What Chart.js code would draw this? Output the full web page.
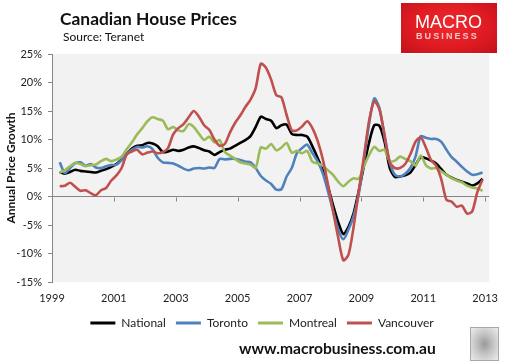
<!DOCTYPE html>
<html>
<head>
<meta charset="utf-8">
<script src="https://cdn.jsdelivr.net/npm/chart.js@4.4.1/dist/chart.umd.min.js"></script>
<style>
    html, body { margin: 0; padding: 0; background: #fff; }
    #wrap { position: relative; width: 508px; height: 364px; overflow: hidden; font-family: Lato, "Open Sans", sans-serif; color: #111; }
    #chart { position: absolute; left: 0; top: 0; }
    .txt { position: absolute; white-space: nowrap; line-height: 1; }
    #title { left: 60px; top: 10px; font-size: 17.4px; font-weight: 700; }
    #source { left: 63px; top: 31px; font-size: 12px; }
    #ytitle { left: -59px; top: 161px; width: 140px; height: 14px; line-height: 14px; text-align: center;
              font-size: 12px; font-weight: 700; transform: rotate(-90deg); }
    #logo { position: absolute; left: 401px; top: 3px; width: 96px; height: 50px;
            background: radial-gradient(ellipse at 50% 45%, #ee2a30 0%, #e01b22 55%, #c0121a 100%); }
    #logo .m { position: absolute; left: 14px; top: 10px; font-family: "Liberation Sans", Arial, sans-serif;
               font-size: 18px; color: #fff; line-height: 1; }
    #logo .b { position: absolute; left: 15px; top: 29px; font-family: "Liberation Sans", Arial, sans-serif;
               font-size: 9px; font-weight: 700; color: #f7c9c9; line-height: 1; letter-spacing: 2.1px; }
    #url { left: 239px; top: 341px; font-size: 15.6px; font-weight: 700; }
    #wolf { position: absolute; left: 470px; top: 327px; width: 27px; height: 32px; border: 1px solid #a8a8a8;
            background: radial-gradient(ellipse at 50% 50%, #9a9a9a 0%, #c4c4c4 45%, #ececec 100%); }
</style>
</head>
<body>
<div id="wrap">
    <canvas id="chart" width="508" height="364"></canvas>
    <div class="txt" id="title">Canadian House Prices</div>
    <div class="txt" id="source">Source: Teranet</div>
    <div class="txt" id="ytitle">Annual Price Growth</div>
    <div id="logo"><span class="m">MACRO</span><span class="b">BUSINESS</span></div>
    <div class="txt" id="url">www.macrobusiness.com.au</div>
    <div id="wolf"></div>
</div>
<script>
// Two-monthly observations, Apr 1999 to Dec 2012 (month index from Jan 1999)
const monthIndex = [];
for (let m = 3; m <= 167; m += 2) monthIndex.push(m);
const dates = monthIndex.map((m) => 1999 + m / 12);

const xTicks = [1999, 2001, 2003, 2005, 2007, 2009, 2011, 2013];

// Annual price growth, %
const national = [
    4.3, 4.0, 4.3, 4.7, 4.5, 4.4, 4.3, 4.2, 4.5, 4.8,
    5.2, 5.7, 6.5, 7.5, 8.4, 8.9, 9.0, 9.4, 9.3, 8.8,
    7.8, 7.9, 8.2, 8.0, 8.2, 8.6, 8.8, 8.5, 8.1, 7.9,
    7.3, 7.8, 8.2, 8.4, 8.9, 9.4, 9.9, 10.6, 12.2, 14.0,
    13.6, 13.3, 12.0, 12.5, 12.6, 11.0, 10.8, 10.8, 10.5, 8.8,
    6.8, 4.6, 1.8, -1.5, -4.5, -6.6, -5.3, -2.9, 1.0, 5.4,
    9.5, 12.5, 12.4, 9.6, 5.0, 3.4, 3.5, 3.7, 4.2, 5.5,
    6.9, 6.7, 6.3, 5.8, 4.8, 3.8, 3.3, 2.9, 2.6, 2.3,
    1.9, 2.3, 3.1,
];
const toronto = [
    6.0, 4.1, 5.0, 5.8, 6.0, 5.4, 5.7, 5.1, 5.0, 5.3,
    5.5, 5.6, 6.4, 7.5, 8.2, 8.7, 8.6, 8.8, 8.3, 6.8,
    6.0, 5.9, 5.8, 5.4, 4.9, 4.6, 4.9, 5.0, 4.9, 5.1,
    5.0, 6.6, 6.5, 6.6, 6.6, 6.4, 6.1, 6.0, 5.0, 3.6,
    2.8, 2.2, 1.2, 1.3, 3.5, 5.0, 7.6, 8.5, 9.1, 7.6,
    6.2, 4.1, 1.0, -2.5, -5.8, -7.5, -5.8, -3.4, 0.5, 6.5,
    12.8, 17.2, 15.5, 10.5, 6.0, 3.8, 3.5, 4.0, 5.0, 7.0,
    10.6, 10.3, 10.1, 10.1, 9.6, 8.2, 6.9, 6.1, 5.2, 4.4,
    3.8, 3.9, 4.2,
];
const montreal = [
    4.2, 4.6, 5.3, 5.9, 5.7, 5.3, 5.5, 5.6, 6.2, 6.6,
    6.2, 6.5, 7.0, 8.3, 9.5, 10.9, 12.0, 13.2, 13.9, 13.6,
    13.3, 11.8, 12.2, 11.6, 11.5, 12.7, 12.2, 11.0, 9.9, 10.5,
    9.5, 9.9, 7.8, 7.2, 6.6, 6.0, 5.8, 5.6, 5.0, 8.6,
    8.4, 9.2, 8.1, 8.6, 9.4, 7.7, 8.0, 7.6, 8.0, 6.1,
    5.8, 5.4, 4.6, 3.8, 2.6, 1.8, 2.6, 3.2, 3.1, 5.3,
    7.3, 8.7, 8.0, 8.2, 6.2, 6.3, 7.0, 6.6, 6.2, 5.4,
    7.2, 5.5, 4.9, 5.0, 4.4, 3.8, 3.2, 2.8, 2.5, 1.9,
    1.6, 1.4, 1.0,
];
const vancouver = [
    1.8, 1.9, 2.4, 1.7, 1.0, 1.1, 0.6, 0.2, 1.1, 1.5,
    2.8, 3.7, 5.0, 7.4, 7.9, 8.2, 7.4, 7.7, 7.9, 7.6,
    7.8, 8.5, 10.9, 12.0, 12.7, 13.9, 15.0, 14.0, 12.5, 11.7,
    10.0, 8.9, 9.2, 11.2, 12.9, 14.2, 15.7, 17.0, 19.0, 23.3,
    22.6, 20.5, 17.8, 17.4, 14.3, 11.6, 11.6, 12.3, 13.2, 12.0,
    9.8, 6.6, 2.2, -2.5, -7.2, -11.2, -10.2, -5.3, 1.0, 7.0,
    13.3, 16.7, 15.3, 10.8, 6.0, 5.0, 5.0, 5.7, 7.4, 9.6,
    10.4, 8.6, 6.4, 5.4, 3.0, -0.6, -0.9, -1.8, -1.6, -3.0,
    -2.6, 0.8, 3.0,
];

const seriesNames = ["National", "Toronto", "Montreal", "Vancouver"];
const seriesColors = ["#000000", "#4f81bd", "#9bbb59", "#c0504d"];
const seriesValues = [national, toronto, montreal, vancouver];

const FONT = "Lato, 'Open Sans', sans-serif";
const AXIS_GREY = "#868686";

// Grey plot area, year ticks hanging off the zero line, legend nudged to sit under the plot
const plotDecor = {
    id: "plotDecor",
    afterLayout(chart) {
        if (chart.legend) chart.legend.left += 28;
    },
    beforeDraw(chart) {
        const { ctx, chartArea } = chart;
        ctx.save();
        ctx.fillStyle = "#f2f2f2";
        ctx.fillRect(chartArea.left, chartArea.top,
            chartArea.right - chartArea.left, chartArea.bottom - chartArea.top);
        ctx.restore();
    },
    beforeDatasetsDraw(chart) {
        const { ctx, scales } = chart;
        const y0 = Math.round(scales.y.getPixelForValue(0)) + 0.5;
        ctx.save();
        ctx.strokeStyle = AXIS_GREY;
        ctx.lineWidth = 1;
        ctx.beginPath();
        xTicks.forEach((t) => {
            const x = Math.round(scales.x.getPixelForValue(t)) + 0.5;
            ctx.moveTo(x, y0);
            ctx.lineTo(x, y0 + 4);
        });
        ctx.stroke();
        ctx.restore();
    },
};

const datasets = seriesNames.map((name, i) => ({
    label: name,
    data: dates.map((d, j) => ({ x: d, y: seriesValues[i][j] })),
    borderColor: seriesColors[i],
    backgroundColor: seriesColors[i],
    borderWidth: 2.6,
    pointRadius: 0,
    tension: 0.25,
    order: seriesNames.length - i, // later series drawn on top, like Excel
}));

new Chart(document.getElementById("chart"), {
    type: "line",
    data: { datasets },
    plugins: [plotDecor],
    options: {
        responsive: false,
        animation: false,
        layout: { padding: { left: 0, right: 12, top: 54, bottom: 25 } },
        plugins: {
            title: { display: false },
            tooltip: { enabled: false },
            legend: {
                position: "bottom",
                labels: {
                    boxWidth: 25,
                    boxHeight: 3,
                    padding: 10,
                    color: "#222",
                    font: { family: FONT, size: 12 },
                    generateLabels: (chart) =>
                        Chart.defaults.plugins.legend.labels.generateLabels(chart)
                            .map((l) => ({ ...l, lineWidth: 0 }))
                            .sort((a, b) => a.datasetIndex - b.datasetIndex),
                },
            },
        },
        scales: {
            x: {
                type: "linear",
                min: 1999,
                max: 2013.13,
                afterBuildTicks: (scale) => {
                    scale.ticks = xTicks.map((v) => ({ value: v }));
                },
                afterFit: (scale) => { scale.height = 25; },
                grid: { display: false, drawTicks: false },
                border: { display: false },
                ticks: {
                    padding: 10,
                    color: "#222",
                    font: { family: FONT, size: 11 },
                    maxRotation: 0,
                    callback: (v) => String(v),
                },
            },
            y: {
                min: -15,
                max: 25,
                afterFit: (scale) => { scale.width = 52; },
                grid: {
                    drawOnChartArea: true,
                    color: (ctx) => (ctx.tick && ctx.tick.value === 0 ? AXIS_GREY : "transparent"),
                    tickColor: AXIS_GREY,
                    tickLength: 4,
                },
                border: { display: true, color: AXIS_GREY },
                ticks: {
                    stepSize: 5,
                    padding: 6,
                    color: "#222",
                    font: { family: FONT, size: 11 },
                    callback: (v) => v + "%",
                },
            },
        },
    },
});
</script>
</body>
</html>
